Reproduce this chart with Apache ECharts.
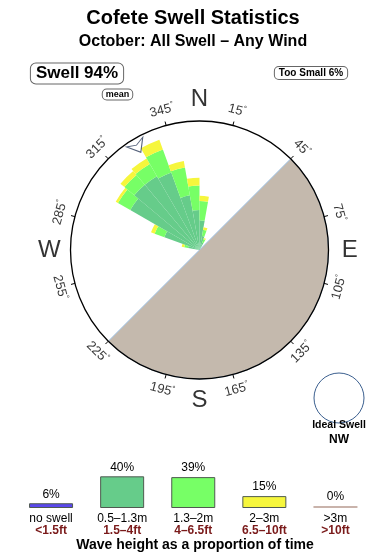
<!DOCTYPE html>
<html><head><meta charset="utf-8">
<script src="https://cdn.jsdelivr.net/npm/echarts@6/dist/echarts.min.js"></script>
<style>html,body{margin:0;padding:0;background:#fff}#c{width:390px;height:560px}</style>
</head><body><div id="c"></div>
<script>
// ---------- data ----------
const titleText = 'Cofete Swell Statistics';
const subtitleText = 'October: All Swell – Any Wind';
const swellPct = 94;
const tooSmallPct = 6;
// rose sectors (10° bins, centre bearing) - band lengths as % of rose radius
const roseBearings = [285, 295, 305, 315, 325, 335, 345, 355, 5, 15, 25];
const band05to13 = [9, 29, 62, 66, 66, 64, 43, 31, 23, 11, 6];
const band13to2  = [3, 8, 11, 10, 11, 19, 22, 19, 15, 5, 3];
const band2to3   = [2, 3, 2, 4, 5, 8, 5, 6, 4, 2, 1];
const binWidth = 10;
// compass
const tickBearings = [15, 45, 75, 105, 135, 165, 195, 225, 255, 285, 315, 345];
const cardinalNames = ['N', 'E', 'S', 'W'];
const cardinalBearings = [0, 90, 180, 270];
const landFrom = 45, landTo = 225;
const meanBearing = 329;
const idealSwell = 'NW';
// legend
const legendCats = ['no swell', '0.5–1.3m', '1.3–2m', '2–3m', '>3m'];
const legendFeet = ['<1.5ft', '1.5–4ft', '4–6.5ft', '6.5–10ft', '>10ft'];
const legendPct = [6, 40, 39, 15, 0];

// ---------- styles ----------
const FONT = '"Liberation Sans", Arial, sans-serif';
const legendColors = ['#5b48ee', '#66cc8a', '#77ff66', '#f6f63c', '#c9b3ab'];
const roseColors = ['#66cc8a', '#77ff66', '#f6f63c'];
const CX = 199.5, CY = 250, R = 129;

function angVal(b) { return b >= 345 ? b - 360 : b; }
function labelRot(b) {
  if (b > 90 && b < 270) return 180 - b;
  let r = -b; if (r < -180) r += 360; return r;
}

// stacked rose segments: [bearing, r0, r1, bandIndex]
const roseData = [];
roseBearings.forEach((b, k) => {
  let acc = 0;
  [band05to13, band13to2, band2to3].forEach((arr, j) => {
    roseData.push([b, acc, acc + arr[k], j]);
    acc += arr[k];
  });
});

const chart = echarts.init(document.getElementById('c'));

function renderRose(params, api) {
  const b = api.value(0), r0v = api.value(1), r1v = api.value(2), band = api.value(3);
  const c = api.coord([0, b]);
  const pO = api.coord([r1v, b]);
  const pI = api.coord([r0v, b]);
  const a = api.coord([100, b - binWidth / 2]);
  const e = api.coord([100, b + binWidth / 2]);
  const d = (p) => Math.hypot(p[0] - c[0], p[1] - c[1]);
  return {
    type: 'sector',
    shape: { cx: c[0], cy: c[1], r0: d(pI), r: d(pO),
      startAngle: Math.atan2(a[1] - c[1], a[0] - c[0]),
      endAngle: Math.atan2(e[1] - c[1], e[0] - c[0]), clockwise: true },
    style: { fill: roseColors[band] }
  };
}

chart.setOption({
  animation: false,
  backgroundColor: '#fff',
  textStyle: { fontFamily: FONT },
  polar: [{ center: [CX, CY], radius: R }],
  angleAxis: [
    { polarIndex: 0, type: 'value', min: -15, max: 345, interval: 30, startAngle: 105, clockwise: true, z: 6,
      axisLine: { lineStyle: { color: '#000', width: 1.3 } },
      axisTick: { length: 4, lineStyle: { color: '#000', width: 1 } },
      axisLabel: { show: false }, splitLine: { show: false }, splitArea: { show: false } }
  ],
  radiusAxis: [
    { polarIndex: 0, type: 'value', min: 0, max: 100, show: false, splitLine: { show: false } }
  ],
  grid: { left: 15.5, width: 355.5, bottom: 52, height: 39.6 },
  xAxis: {
    type: 'category', data: legendCats,
    axisLine: { show: false }, axisTick: { show: false },
    axisLabel: {
      margin: 5, interval: 0,
      formatter: (v, i) => '{a|' + v + '}\n{b|' + legendFeet[i] + '}',
      rich: {
        a: { fontSize: 12, color: '#000', lineHeight: 12, fontFamily: FONT },
        b: { fontSize: 12, fontWeight: 'bold', color: '#7a1a1a', lineHeight: 12, fontFamily: FONT }
      }
    }
  },
  yAxis: { type: 'value', min: 0, max: 50, show: false },
  series: [
    { type: 'pie', center: [CX, CY], radius: R, startAngle: 90 - landFrom, clockwise: true,
      silent: true, z: 1, label: { show: false }, labelLine: { show: false },
      emphasis: { disabled: true },
      data: [
        { name: 'land', value: landTo - landFrom, itemStyle: { color: '#c4b9ad', borderColor: '#9fc2e6', borderWidth: 1 } },
        { name: 'sea', value: 360 - (landTo - landFrom), itemStyle: { color: 'rgba(0,0,0,0)' } }
      ] },
    { type: 'custom', coordinateSystem: 'polar', polarIndex: 0, silent: true, z: 3,
      data: roseData, renderItem: renderRose, encode: { radius: 2, angle: 0 } },
    { type: 'scatter', coordinateSystem: 'polar', polarIndex: 0, silent: true, clip: false, z: 7,
      symbolSize: 1, itemStyle: { color: 'rgba(0,0,0,0)' },
      data: tickBearings.map(b => ({ name: String(b), value: [112, angVal(b)],
        label: { rotate: labelRot(b) } })),
      label: { show: true, position: 'inside',
        formatter: p => '{n|' + p.name + '}{d|°}',
        rich: { n: { fontSize: 13, color: '#000', fontFamily: FONT },
                d: { fontSize: 8, color: '#000', fontFamily: FONT, padding: [0, 0, 7, 0] } } } },
    { type: 'scatter', coordinateSystem: 'polar', polarIndex: 0, silent: true, clip: false, z: 7,
      symbolSize: 1, itemStyle: { color: 'rgba(0,0,0,0)' },
      data: cardinalNames.map((n, i) => ({ name: n, value: [116.5, angVal(cardinalBearings[i])] })),
      label: { show: true, position: 'inside', formatter: '{b}', fontSize: 24, color: '#000', fontFamily: FONT } },
    { type: 'scatter', coordinateSystem: 'polar', polarIndex: 0, silent: true, clip: false, z: 8,
      data: [[93, angVal(meanBearing)]],
      symbol: 'path://M0,0 L10,13 L0,9 L-10,13 Z', symbolSize: [19, 12], symbolRotate: -(meanBearing + 180 - 360),
      itemStyle: { color: 'rgba(255,255,255,0)', borderColor: '#2b3b5a', borderWidth: 1 } },
    { type: 'bar', xAxisIndex: 0, yAxisIndex: 0, barWidth: 44, barMinHeight: 2, silent: true,
      data: legendPct.map((v, i) => ({ value: v, itemStyle: { color: legendColors[i],
        borderColor: i === 4 ? legendColors[i] : '#4f5a50', borderWidth: i === 4 ? 0 : 1 } })),
      label: { show: true, position: 'top', distance: 3, formatter: '{c}%', fontSize: 12, color: '#000', fontFamily: FONT } }
  ],
  graphic: [
    { type: 'text', style: { x: 193, y: 18, text: titleText, font: 'bold 20px ' + FONT, fill: '#000', align: 'center', verticalAlign: 'middle' } },
    { type: 'text', style: { x: 193, y: 42, text: subtitleText, font: 'bold 16px ' + FONT, fill: '#000', align: 'center', verticalAlign: 'middle' } },
    { type: 'text', style: { x: 77, y: 73.5, text: 'Swell ' + swellPct + '%', font: 'bold 17px ' + FONT, fill: '#000', align: 'center', verticalAlign: 'middle',
        backgroundColor: '#fff', borderColor: '#666', borderWidth: 1, borderRadius: 5, padding: [2, 5, 1, 5] } },
    { type: 'text', style: { x: 311, y: 73, text: 'Too Small ' + tooSmallPct + '%', font: 'bold 10px ' + FONT, fill: '#000', align: 'center', verticalAlign: 'middle',
        backgroundColor: '#fff', borderColor: '#666', borderWidth: 1, borderRadius: 4, padding: [1, 4, 1, 4] } },
    { type: 'text', style: { x: 117.5, y: 94.5, text: 'mean', font: 'bold 9px ' + FONT, fill: '#000', align: 'center', verticalAlign: 'middle',
        backgroundColor: '#fff', borderColor: '#666', borderWidth: 1, borderRadius: 4, padding: [1, 3, 0, 3] } },
    { type: 'circle', shape: { cx: 339, cy: 398, r: 25 }, style: { fill: '#fff', stroke: '#3b5f8f', lineWidth: 1 } },
    { type: 'text', style: { x: 339, y: 425, text: 'Ideal Swell', font: 'bold 10.5px ' + FONT, fill: '#000', align: 'center', verticalAlign: 'middle' } },
    { type: 'text', style: { x: 339, y: 440, text: idealSwell, font: 'bold 12px ' + FONT, fill: '#000', align: 'center', verticalAlign: 'middle' } },
    { type: 'text', style: { x: 195, y: 545, text: 'Wave height as a proportion of time', font: 'bold 14px ' + FONT, fill: '#000', align: 'center', verticalAlign: 'middle' } }
  ]
});
</script></body></html>
